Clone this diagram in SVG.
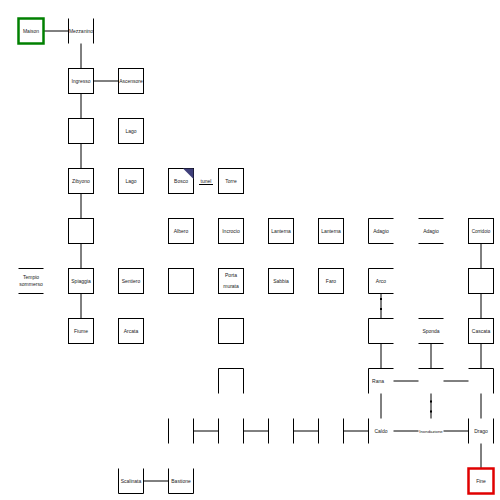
<svg xmlns="http://www.w3.org/2000/svg" width="500" height="500" viewBox="0 0 500 500">
<style>
.b{fill:#fff;stroke:#000;stroke-width:1}
.p{fill:none;stroke:#000;stroke-width:1}
.t{font-family:"Liberation Sans",Arial,sans-serif;font-size:5px;fill:#222;text-anchor:middle;dominant-baseline:central}
.c line{stroke:#000;stroke-width:1}
.m{fill:#000}
</style>
<rect width="500" height="500" fill="#fff"/>
<g class="c" id="connectors">
<line x1="44" y1="31" x2="68.5" y2="31"/>
<line x1="81" y1="43.5" x2="81" y2="68.5"/>
<line x1="93.5" y1="81" x2="118.5" y2="81"/>
<line x1="81" y1="93.5" x2="81" y2="118.5"/>
<line x1="81" y1="143.5" x2="81" y2="168.5"/>
<line x1="81" y1="193.5" x2="81" y2="218.5"/>
<line x1="81" y1="243.5" x2="81" y2="268.5"/>
<line x1="81" y1="293.5" x2="81" y2="318.5"/>
<line x1="199" y1="184.5" x2="213" y2="184.5"/>
<line x1="481" y1="243.5" x2="481" y2="268.5"/>
<line x1="481" y1="293.5" x2="481" y2="318.5"/>
<line x1="481" y1="343.5" x2="481" y2="368.5"/>
<line x1="381" y1="293.5" x2="381" y2="318.5"/>
<line x1="381" y1="343.5" x2="381" y2="368.5"/>
<line x1="431" y1="343.5" x2="431" y2="368.5"/>
<line x1="393.5" y1="381" x2="418.5" y2="381"/>
<line x1="443.5" y1="381" x2="468.5" y2="381"/>
<line x1="381" y1="393.5" x2="381" y2="418.5"/>
<line x1="431" y1="393.5" x2="431" y2="418.5"/>
<line x1="481" y1="393.5" x2="481" y2="418.5"/>
<line x1="193.5" y1="431" x2="218.5" y2="431"/>
<line x1="243.5" y1="431" x2="268.5" y2="431"/>
<line x1="293.5" y1="431" x2="318.5" y2="431"/>
<line x1="343.5" y1="431" x2="368.5" y2="431"/>
<line x1="393.5" y1="431" x2="418.5" y2="431"/>
<line x1="443.5" y1="431" x2="468.5" y2="431"/>
<line x1="481" y1="443.5" x2="481" y2="468.5"/>
<line x1="143.5" y1="481" x2="168.5" y2="481"/>
<rect class="m" x="380" y="298" width="2" height="2"/>
<rect class="m" x="380" y="308" width="2" height="2"/>
<rect class="m" x="430" y="400.5" width="2" height="2"/>
<rect class="m" x="430" y="410.5" width="2" height="2"/>
<text class="t" x="206" y="180.5">tunel</text>
</g>
<g id="n-maison"><rect x="18.5" y="18.5" width="25" height="25" fill="#fff" stroke="#008000" stroke-width="2.5"/><text class="t" x="31" y="31">Maison</text></g>
<g id="n-mezzanino"><path class="p" d="M68.5 18.5V43.5M93.5 18.5V43.5"/><text class="t" x="81" y="31">Mezzanino</text></g>
<g id="n-ingresso"><rect class="b" x="68.5" y="68.5" width="25" height="25"/><text class="t" x="81" y="81">Ingresso</text></g>
<g id="n-ascensore"><rect class="b" x="118.5" y="68.5" width="25" height="25"/><text class="t" x="131" y="81">Ascensore</text></g>
<g id="n-r2c1"><rect class="b" x="68.5" y="118.5" width="25" height="25"/></g>
<g id="n-lago1"><rect class="b" x="118.5" y="118.5" width="25" height="25"/><text class="t" x="131" y="131">Lago</text></g>
<g id="n-zibyono"><rect class="b" x="68.5" y="168.5" width="25" height="25"/><text class="t" x="81" y="181">Zibyono</text></g>
<g id="n-lago2"><rect class="b" x="118.5" y="168.5" width="25" height="25"/><text class="t" x="131" y="181">Lago</text></g>
<g id="n-bosco"><rect class="b" x="168.5" y="168.5" width="25" height="25"/><path d="M183 168.5H193.5V179Z" fill="#3f3f7a"/><text class="t" x="181" y="181">Bosco</text></g>
<g id="n-torre"><rect class="b" x="218.5" y="168.5" width="25" height="25"/><text class="t" x="231" y="181">Torre</text></g>
<g id="n-r4c1"><rect class="b" x="68.5" y="218.5" width="25" height="25"/></g>
<g id="n-albero"><rect class="b" x="168.5" y="218.5" width="25" height="25"/><text class="t" x="181" y="231">Albero</text></g>
<g id="n-incrocio"><rect class="b" x="218.5" y="218.5" width="25" height="25"/><text class="t" x="231" y="231">Incrocio</text></g>
<g id="n-lanterna1"><rect class="b" x="268.5" y="218.5" width="25" height="25"/><text class="t" x="281" y="231">Lanterna</text></g>
<g id="n-lanterna2"><rect class="b" x="318.5" y="218.5" width="25" height="25"/><text class="t" x="331" y="231">Lanterna</text></g>
<g id="n-adagio1"><path class="p" d="M393.5 218.5H368.5V243.5H393.5"/><text class="t" x="381" y="231">Adagio</text></g>
<g id="n-adagio2"><path class="p" d="M418.5 218.5H443.5M418.5 243.5H443.5"/><text class="t" x="431" y="231">Adagio</text></g>
<g id="n-corridoio"><rect class="b" x="468.5" y="218.5" width="25" height="25"/><text class="t" x="481" y="231" style="font-size:4.6px">Corridoio</text></g>
<g id="n-tempio"><path class="p" d="M18.5 268.5H43.5M18.5 293.5H43.5"/><text class="t" x="31" y="277">Tempio</text><text class="t" x="31" y="284">sommerso</text></g>
<g id="n-spiaggia"><rect class="b" x="68.5" y="268.5" width="25" height="25"/><text class="t" x="81" y="281">Spiaggia</text></g>
<g id="n-sentiero"><rect class="b" x="118.5" y="268.5" width="25" height="25"/><text class="t" x="131" y="281">Sentiero</text></g>
<g id="n-r5c3"><rect class="b" x="168.5" y="268.5" width="25" height="25"/></g>
<g id="n-porta"><rect class="b" x="218.5" y="268.5" width="25" height="25"/><text class="t" x="231" y="275">Porta</text><text class="t" x="231" y="286">murata</text></g>
<g id="n-sabbia"><rect class="b" x="268.5" y="268.5" width="25" height="25"/><text class="t" x="281" y="281">Sabbia</text></g>
<g id="n-faro"><rect class="b" x="318.5" y="268.5" width="25" height="25"/><text class="t" x="331" y="281">Faro</text></g>
<g id="n-arco"><path class="p" d="M393.5 268.5H368.5V293.5H393.5"/><text class="t" x="381" y="281">Arco</text></g>
<g id="n-r5c9"><rect class="b" x="468.5" y="268.5" width="25" height="25"/></g>
<g id="n-fiume"><rect class="b" x="68.5" y="318.5" width="25" height="25"/><text class="t" x="81" y="331">Fiume</text></g>
<g id="n-arcata"><rect class="b" x="118.5" y="318.5" width="25" height="25"/><text class="t" x="131" y="331">Arcata</text></g>
<g id="n-r6c4"><rect class="b" x="218.5" y="318.5" width="25" height="25"/></g>
<g id="n-r6c7"><path class="p" d="M393.5 318.5H368.5V343.5H393.5"/></g>
<g id="n-sponda"><path class="p" d="M418.5 318.5H443.5M418.5 343.5H443.5"/><text class="t" x="431" y="331">Sponda</text></g>
<g id="n-cascata"><rect class="b" x="468.5" y="318.5" width="25" height="25"/><text class="t" x="481" y="331">Cascata</text></g>
<g id="n-r7c4"><path class="p" d="M218.5 393.5V368.5H243.5V393.5"/></g>
<g id="n-rana"><path class="p" d="M368.5 393.5V368.5H393.5"/><text class="t" x="378" y="381">Rana</text></g>
<g id="n-r7c8"><path class="p" d="M418.5 368.5H443.5"/></g>
<g id="n-r7c9"><path class="p" d="M468.5 368.5H493.5V393.5"/></g>
<g id="n-r8c3"><path class="p" d="M168.5 418.5V443.5M193.5 418.5V443.5"/></g>
<g id="n-r8c4"><path class="p" d="M218.5 418.5V443.5M243.5 418.5V443.5"/></g>
<g id="n-r8c5"><path class="p" d="M268.5 418.5V443.5M293.5 418.5V443.5"/></g>
<g id="n-r8c6"><path class="p" d="M318.5 418.5V443.5M343.5 418.5V443.5"/></g>
<g id="n-caldo"><path class="p" d="M368.5 418.5V443.5"/><text class="t" x="381" y="431">Caldo</text></g>
<g id="n-inondazione"><text class="t" x="431" y="431" style="font-size:4.3px">Inondazione</text></g>
<g id="n-drago"><path class="p" d="M468.5 418.5V443.5M493.5 418.5V443.5"/><text class="t" x="481" y="431">Drago</text></g>
<g id="n-scalinata"><path class="p" d="M118.5 468.5V493.5H143.5V468.5"/><text class="t" x="131" y="481">Scalinata</text></g>
<g id="n-bastione"><path class="p" d="M168.5 468.5V493.5H193.5V468.5"/><text class="t" x="181" y="481">Bastione</text></g>
<g id="n-fine"><rect x="468.5" y="468.5" width="25" height="25" fill="#fff" stroke="#e00000" stroke-width="2.5"/><text class="t" x="481" y="481">Fine</text></g>
</svg>
